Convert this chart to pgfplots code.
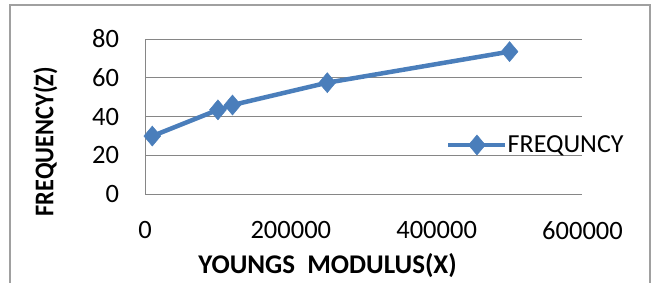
\documentclass[border=0pt]{standalone}
\usepackage{pgfplots}
\pgfplotsset{compat=1.18}
\usepackage{fontspec}
\setmainfont{Carlito}
\definecolor{serie}{HTML}{4A7EBB}
\definecolor{gridc}{HTML}{868686}
\definecolor{framec}{HTML}{A0A0A0}
\begin{document}
\begin{tikzpicture}
\useasboundingbox (0,0) rectangle (653bp,283bp);
\draw[framec, line width=1.6bp] (10bp,-10bp) -- (10bp,278bp) -- (650bp,278bp) -- (650bp,-10bp);
\begin{axis}[
  at={(145bp,88.7bp)}, anchor=south west,
  scale only axis, width=437.5bp, height=155.3bp,
  xmin=0, xmax=600000, ymin=0, ymax=80,
  xtick={0,200000,400000,600000}, ytick={0,20,40,60,80},
  xticklabels={0,200000,400000,600000},
  yticklabels={0,20,40,60,80},
  scaled x ticks=false,
  axis x line*=bottom, axis y line*=left,
  axis line style={gridc, line width=1bp, -},
  major tick length=0pt,
  ymajorgrids, grid style={gridc, line width=1bp},
  tick label style={font=\fontsize{26.5bp}{30bp}\selectfont, inner sep=0pt},
  yticklabel style={anchor=east, xshift=-25.7bp},
  xticklabel style={anchor=north, yshift=-27bp},
  xlabel={YOUNGS\ \ MODULUS(X)},
  ylabel={\scalebox{0.9}[1]{FREQUENCY(Z)}},
  xlabel style={at={(axis description cs:0.4173,-0.513)}, anchor=base, font=\bfseries\fontsize{27bp}{30bp}\selectfont, inner sep=0pt},
  ylabel style={at={(axis description cs:-0.2096,0.3387)}, anchor=base, font=\bfseries\fontsize{27bp}{30bp}\selectfont, inner sep=0pt},
  legend style={draw=none, fill=none, at={(axis description cs:0.6880,0.3175)}, anchor=west, inner sep=0pt, font=\fontsize{26bp}{30bp}\selectfont, column sep=0pt, nodes={inner sep=0pt}},
  legend image code/.code={\draw[mark repeat=2,mark phase=2,#1] plot coordinates {(0bp,0bp) (28.5bp,0bp) (57bp,0bp)};},
]
\addplot[serie, line width=4.5bp, mark=diamond*, mark size=10bp, mark options={solid, line width=0.5bp, fill=serie, xscale=1.12}]
  coordinates {(10000,30) (100000,43.5) (120000,46) (250000,57.5) (500000,73.5)};
\addlegendentry{FREQUNCY}
\end{axis}
\end{tikzpicture}
\end{document}
